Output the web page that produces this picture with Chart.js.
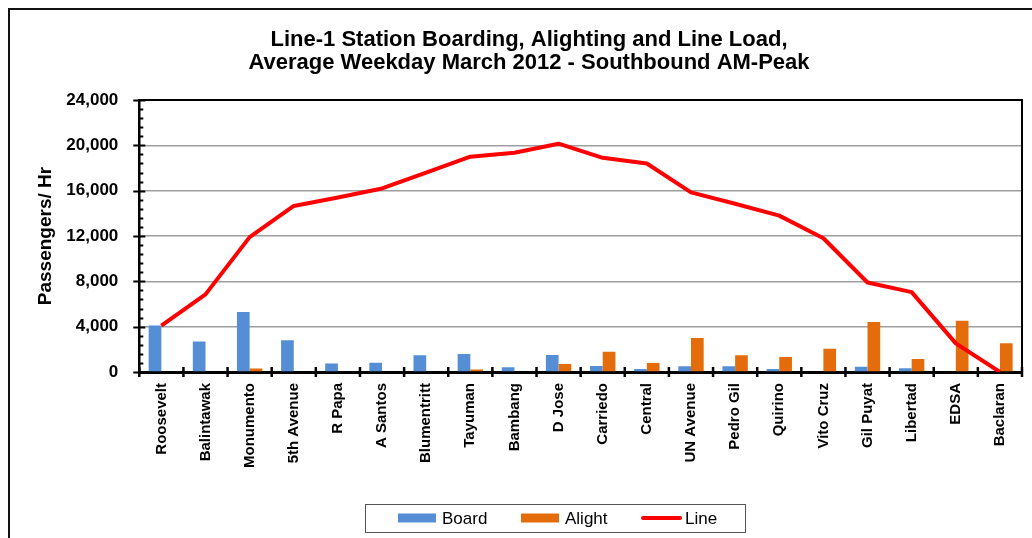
<!DOCTYPE html>
<html>
<head>
<meta charset="utf-8">
<title>Line-1 Station Boarding, Alighting and Line Load</title>
<script src="https://cdn.jsdelivr.net/npm/chart.js@4.4.1/dist/chart.umd.min.js"></script>
<style>
  html, body { margin: 0; padding: 0; background: #ffffff; }
  canvas { display: block; }
</style>
</head>
<body>
<canvas id="chart" width="1032" height="538"></canvas>
<script>
// Southbound stations, north to south
const stations = [
  'Roosevelt', 'Balintawak', 'Monumento', '5th Avenue', 'R Papa', 'A Santos',
  'Blumentritt', 'Tayuman', 'Bambang', 'D Jose', 'Carriedo', 'Central',
  'UN Avenue', 'Pedro Gil', 'Quirino', 'Vito Cruz', 'Gil Puyat', 'Libertad',
  'EDSA', 'Baclaran'
];

// Passengers per hour boarding at each station
const boardValues = [4100, 2700, 5300, 2800, 750, 820, 1470, 1590, 410, 1500,
                     530, 265, 500, 500, 265, 0, 470, 320, 0, 0];

// Passengers per hour alighting at each station
const alightValues = [0, 0, 300, 0, 0, 0, 0, 230, 0, 700,
                      1790, 790, 3000, 1470, 1320, 2060, 4410, 1150, 4530, 2530];

// Line load leaving each station
const lineLoad = [4100, 6850, 11900, 14650, 15400, 16200, 17600, 19000, 19350, 20150,
                  18900, 18400, 15850, 14850, 13800, 11800, 7900, 7050, 2530, 0];

// Value axis
const yMin = 0;
const yMax = 24000;
const yMajorStep = 4000;
const yMinorStep = 800;

const titleLines = [
  'Line-1 Station Boarding, Alighting and Line Load,',
  'Average Weekday March 2012 - Southbound AM-Peak'
];

const FONT = '"Liberation Sans", Arial, Helvetica, sans-serif';
const BLUE = '#558ED5';
const ORANGE = '#E46C0A';
const RED = '#FF0000';

// Outer frame of the chart object (top and left edges)
const outerFrame = {
  id: 'outerFrame',
  beforeDraw(chart) {
    const { ctx, width, height } = chart;
    ctx.save();
    ctx.fillStyle = '#ffffff';
    ctx.fillRect(0, 0, width, height);
    ctx.strokeStyle = '#111111';
    ctx.lineWidth = 2;
    ctx.beginPath();
    ctx.moveTo(9, height);
    ctx.lineTo(9, 9);
    ctx.lineTo(width, 9);
    ctx.stroke();
    ctx.restore();
  }
};

// Plot frame, crossing major ticks, minor ticks and category ticks
const axisMarks = {
  id: 'axisMarks',
  afterDraw(chart) {
    const { ctx, chartArea, scales } = chart;
    const x = scales.x, y = scales.y;
    ctx.save();
    ctx.strokeStyle = '#000000';
    ctx.lineWidth = 2;
    ctx.beginPath();
    ctx.moveTo(chartArea.left, chartArea.top);
    ctx.lineTo(chartArea.right, chartArea.top);
    ctx.lineTo(chartArea.right, chartArea.bottom);
    ctx.stroke();

    // value axis: majors cross the axis, minors point inward
    ctx.beginPath();
    for (let v = yMin; v <= yMax + 0.5; v += yMinorStep) {
      const py = Math.round(y.getPixelForValue(v)) + 0.5;
      const major = (v % yMajorStep) === 0;
      ctx.moveTo(chartArea.left - (major ? 6 : 0), py);
      ctx.lineTo(chartArea.left + (major ? 6 : 4), py);
    }
    ctx.stroke();

    // category axis: ticks between stations, crossing the axis
    ctx.lineWidth = 2.5;
    ctx.beginPath();
    const n = stations.length;
    const half = (x.getPixelForValue(1) - x.getPixelForValue(0)) / 2;
    for (let i = 0; i <= n; i++) {
      const px = (i < n ? x.getPixelForValue(i) - half : x.getPixelForValue(n - 1) + half);
      ctx.moveTo(px, chartArea.bottom - 5);
      ctx.lineTo(px, chartArea.bottom + 5);
    }
    ctx.stroke();
    ctx.restore();
  }
};

// Framed legend under the category labels
const boxedLegend = {
  id: 'boxedLegend',
  afterDraw(chart) {
    const { ctx } = chart;
    const box = { left: 365, top: 504, width: 380, height: 28 };
    const midY = box.top + box.height / 2;
    ctx.save();
    ctx.strokeStyle = '#555555';
    ctx.lineWidth = 1;
    ctx.strokeRect(box.left + 0.5, box.top + 0.5, box.width, box.height);

    ctx.font = '17px ' + FONT;
    ctx.textBaseline = 'middle';
    ctx.textAlign = 'left';
    ctx.fillStyle = '#000000';

    const ds = chart.data.datasets;
    const slots = [33, 156, 276];
    ds.forEach((d, i) => {
      const sx = box.left + slots[i];
      if (d.type === 'line') {
        ctx.strokeStyle = d.borderColor;
        ctx.lineWidth = 4;
        ctx.lineCap = 'round';
        ctx.beginPath();
        ctx.moveTo(sx + 2, midY);
        ctx.lineTo(sx + 39, midY);
        ctx.stroke();
        ctx.fillText(d.label, sx + 44, midY + 1);
      } else {
        ctx.fillStyle = d.backgroundColor;
        ctx.fillRect(sx, midY - 4.5, 38, 9);
        ctx.fillStyle = '#000000';
        ctx.fillText(d.label, sx + 44, midY + 1);
      }
    });
    ctx.restore();
  }
};

new Chart(document.getElementById('chart'), {
  data: {
    labels: stations,
    datasets: [
      {
        type: 'bar',
        label: 'Board',
        data: boardValues,
        backgroundColor: BLUE,
        borderWidth: 0,
        order: 1
      },
      {
        type: 'bar',
        label: 'Alight',
        data: alightValues,
        backgroundColor: ORANGE,
        borderWidth: 0,
        order: 2
      },
      {
        type: 'line',
        label: 'Line',
        data: lineLoad,
        borderColor: RED,
        backgroundColor: RED,
        borderWidth: 4,
        pointRadius: 0,
        tension: 0,
        borderJoinStyle: 'round',
        order: 0
      }
    ]
  },
  options: {
    responsive: false,
    animation: false,
    devicePixelRatio: 1,
    datasets: {
      bar: { categoryPercentage: 0.575, barPercentage: 1.0 }
    },
    layout: { padding: { top: 10, left: 36, right: 10, bottom: 0 } },
    plugins: {
      legend: { display: false },
      tooltip: { enabled: false },
      title: {
        display: true,
        text: titleLines,
        color: '#000000',
        font: { family: FONT, size: 22, weight: 'bold', lineHeight: 1.06 },
        padding: { top: 18, bottom: 25.4 }
      }
    },
    scales: {
      x: {
        type: 'category',
        offset: true,
        grid: { display: true, drawOnChartArea: false, drawTicks: true, tickLength: 5, tickColor: 'rgba(0,0,0,0)' },
        border: { display: true, color: '#000000', width: 3 },
        ticks: {
          color: '#000000',
          font: { family: FONT, size: 15, weight: 'bold' },
          minRotation: 90,
          maxRotation: 90,
          autoSkip: false,
          padding: 6
        },
        afterFit(scale) { scale.height = 166; }
      },
      y: {
        type: 'linear',
        min: yMin,
        max: yMax,
        grid: { color: '#9e9e9e', lineWidth: 1.5, drawTicks: true, tickLength: 6, tickColor: 'rgba(0,0,0,0)' },
        border: { display: true, color: '#000000', width: 2.5 },
        ticks: {
          stepSize: yMajorStep,
          color: '#000000',
          font: { family: FONT, size: 17, weight: 'bold' },
          padding: 15,
          callback: (v) => Number(v).toLocaleString('en-US')
        },
        title: {
          display: true,
          text: 'Passengers/ Hr',
          color: '#000000',
          font: { family: FONT, size: 19, weight: 'bold', lineHeight: 1 },
          padding: { top: 0, bottom: 0 }
        },
        afterFit(scale) { scale.width = 103.3; }
      }
    }
  },
  plugins: [outerFrame, axisMarks, boxedLegend]
});
</script>
</body>
</html>
